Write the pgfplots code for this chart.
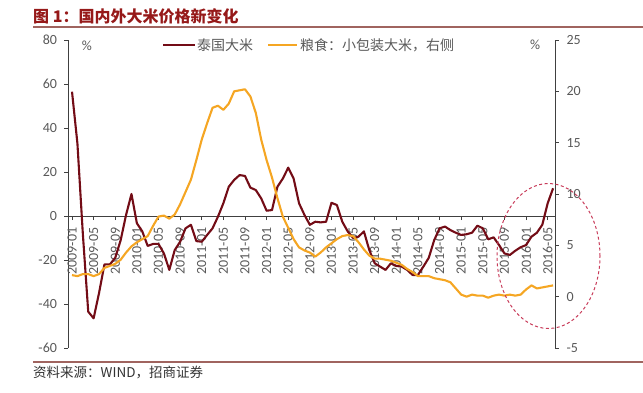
\documentclass[border=0pt]{standalone}
\usepackage{pgfplots}
\pgfplotsset{compat=1.18}
\usepackage{pgfplotstable}
\usepackage{fontspec}
\setmainfont{Carlito}
\newfontfamily\cjk{Noto Sans CJK SC}
\definecolor{thai}{RGB}{115,12,22}
\definecolor{liang}{RGB}{245,166,35}
\definecolor{tickc}{RGB}{89,89,89}
\definecolor{axl}{RGB}{64,64,64}
\definecolor{ttl}{RGB}{150,25,25}
\definecolor{rulec}{RGB}{160,100,95}
\definecolor{ell}{RGB}{200,60,90}

\pgfplotstableread{
i v
0 56.5
1 33
2 -8
3 -43.5
4 -46.5
5 -35
6 -22
7 -22
8 -19
9 -11
10 0.5
11 10
12 -3.3
13 -7
14 -13.6
15 -12.7
16 -12.7
17 -17
18 -24.5
19 -15.5
20 -11.7
21 -5.6
22 -4
23 -11.4
24 -11.7
25 -8.6
26 -5.6
27 -0.3
28 5.8
29 13.3
30 16.4
31 18.6
32 18.2
33 12.9
34 11.8
35 8
36 2.4
37 2.7
38 13.3
39 17
40 22
41 17
42 5.8
43 0.5
44 -4
45 -2.6
46 -2.9
47 -2.6
48 6
49 5
50 -2.6
51 -7
52 -10
53 -9.4
54 -7
55 -15.5
56 -21.5
57 -23
58 -24.5
59 -21.5
60 -22.7
61 -23
62 -24.5
63 -26.8
64 -26.8
65 -23
66 -19
67 -11
68 -5.6
69 -4.8
70 -6.4
71 -7.6
72 -8.6
73 -8.3
74 -7.6
75 -4.4
76 -5.6
77 -10.6
78 -9.7
79 -13.2
80 -17
81 -17.7
82 -15.8
83 -14.2
84 -13.2
85 -9.4
86 -7.6
87 -4
88 5.8
89 12.6
}\thaitab

\pgfplotstableread{
i v
0 2.1
1 2.0
2 2.2
3 2.2
4 2.0
5 2.2
6 2.8
7 3.0
8 3.2
9 3.6
10 4.3
11 4.9
12 5.3
13 5.6
14 5.9
15 6.9
16 7.8
17 7.9
18 7.6
19 8.0
20 9.0
21 10.2
22 11.4
23 13.3
24 15.3
25 16.9
26 18.4
27 18.6
28 18.2
29 18.8
30 20.0
31 20.1
32 20.2
33 19.5
34 17.9
35 15.3
36 13.3
37 11.6
38 9.6
39 7.8
40 6.7
41 5.6
42 4.8
43 4.5
44 4.3
45 3.9
46 4.3
47 4.8
48 5.2
49 5.6
50 5.9
51 6.0
52 5.9
53 5.3
54 4.6
55 4.0
56 3.7
57 3.7
58 3.6
59 3.5
60 3.3
61 3.1
62 2.7
63 2.4
64 2.0
65 2.0
66 2.0
67 1.8
68 1.7
69 1.6
70 1.4
71 0.8
72 0.2
73 0.0
74 0.2
75 0.1
76 0.1
77 -0.1
78 0.1
79 0.2
80 0.1
81 0.2
82 0.1
83 0.2
84 0.7
85 1.1
86 0.8
87 0.9
88 1.0
89 1.1
}\liangtab

\begin{document}
\begin{tikzpicture}
\useasboundingbox (0pt,0pt) rectangle (643pt,392pt);
\begin{axis}[
  scale only axis, width=486.5pt, height=308pt,
  at={(68.5pt,44pt)}, anchor=south west,
  xmin=-0.65, xmax=89.35, ymin=-60, ymax=80,
  axis x line=middle, axis y line=left,
  axis line style={-, draw=axl, line width=0.8pt},
  tick style={draw=axl, line width=0.8pt},
  major tick length=4pt,
  tick align=outside,
  xtick={0,4,...,88},
  xticklabels={2009-01,2009-05,2009-09,2010-01,2010-05,2010-09,2011-01,2011-05,2011-09,2012-01,2012-05,2012-09,2013-01,2013-05,2013-09,2014-01,2014-05,2014-09,2015-01,2015-05,2015-09,2016-01,2016-05},
  xticklabel shift=4pt,
  x tick label style={rotate=90, anchor=east, font=\fontsize{14}{16}\selectfont, text=tickc},
  ytick={-60,-40,...,80},
  y tick label style={font=\fontsize{14}{16}\selectfont, text=tickc, xshift=-4pt},
  /pgf/number format/assume math mode=true,
]
\addplot[thai, line width=2.1pt, line join=round] table[x=i,y=v] {\thaitab};
\end{axis}
\begin{axis}[
  scale only axis, width=486.5pt, height=308pt,
  at={(68.5pt,44pt)}, anchor=south west,
  xmin=-0.65, xmax=89.35, ymin=-5, ymax=25,
  axis x line=none, axis y line=right,
  axis line style={-, draw=axl, line width=0.8pt},
  tick style={draw=axl, line width=0.8pt},
  major tick length=4pt,
  tick align=outside,
  ytick={-5,0,...,25},
  y tick label style={font=\fontsize{14}{16}\selectfont, text=tickc, xshift=4pt},
  /pgf/number format/assume math mode=true,
]
\addplot[liang, line width=2.1pt, line join=round] table[x=i,y=v] {\liangtab};
\end{axis}
\begin{scope}[x=1pt,y=1pt]
\node[anchor=west, text=ttl, font=\cjk\bfseries\fontsize{16}{18}\selectfont, inner sep=0pt] at (33,376) {图 1：国内外大米价格新变化};
\draw[rulec, line width=1.1pt] (33,365) -- (643,365);
\draw[rulec, line width=1.1pt] (33,30) -- (643,30);
\node[anchor=west, text=black!80, font=\cjk\fontsize{13.5}{15}\selectfont, inner sep=0pt] at (33,19) {资料来源：WIND，招商证券};
\draw[thai, line width=2pt] (163,346.5) -- (195,346.5);
\node[anchor=west, text=tickc, font=\cjk\fontsize{14}{16}\selectfont, inner sep=0pt] at (197,346.5) {泰国大米};
\draw[liang, line width=2pt] (268,346.5) -- (297,346.5);
\node[anchor=west, text=tickc, font=\cjk\fontsize{14}{16}\selectfont, inner sep=0pt] at (300,346.5) {粮食：小包装大米，右侧};
\node[text=tickc, font=\fontsize{14}{16}\selectfont, inner sep=0pt] at (87,346) {\%};
\node[text=tickc, font=\fontsize{14}{16}\selectfont, inner sep=0pt] at (535,347) {\%};
\draw[ell, line width=1pt, dash pattern=on 3pt off 2.5pt] (548.5,136) ellipse [x radius=51.5, y radius=72.5];
\end{scope}
\end{tikzpicture}
\end{document}
